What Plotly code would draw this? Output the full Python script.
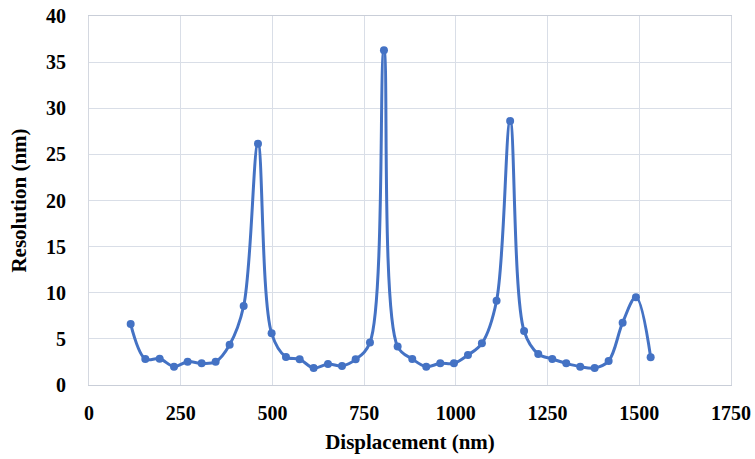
import plotly.graph_objects as go

displacement = [113.6, 153.5, 192.6, 231.7, 268.9, 307.0, 345.2, 383.4, 421.6, 460.6,
                497.8, 536.9, 574.2, 612.4, 651.4, 689.6, 726.9, 765.9, 804.0, 841.3,
                881.2, 919.3, 957.5, 994.8, 1033.0, 1071.0, 1111.0, 1148.0, 1186.0, 1224.6,
                1262.8, 1300.9, 1339.0, 1378.3, 1416.4, 1454.6, 1490.9, 1531.0]
resolution = [6.61, 2.82, 2.85, 1.99, 2.53, 2.35, 2.53, 4.37, 8.56, 26.16,
              5.60, 3.04, 2.78, 1.84, 2.28, 2.06, 2.78, 4.62, 36.28, 4.16,
              2.82, 1.99, 2.35, 2.35, 3.25, 4.52, 9.14, 28.62, 5.85, 3.36,
              2.82, 2.35, 1.99, 1.84, 2.60, 6.76, 9.50, 3.00]

x_ticks = [0, 250, 500, 750, 1000, 1250, 1500, 1750]
y_ticks = [0, 5, 10, 15, 20, 25, 30, 35, 40]

font_family = "Liberation Serif"
grid_color = "#d9dee7"

fig = go.Figure()
fig.add_trace(go.Scatter(
    x=displacement, y=resolution, mode="lines+markers",
    line=dict(color="#4472C4", width=3, shape="spline", smoothing=1.0),
    marker=dict(color="#4472C4", size=8),
    showlegend=False,
))

fig.update_layout(
    width=755, height=459,
    margin=dict(l=89, r=24, t=16, b=74),
    paper_bgcolor="white", plot_bgcolor="white",
    font=dict(family=font_family, color="black"),
)
fig.update_xaxes(
    range=[0, 1750], tickvals=x_ticks, ticktext=[str(v) for v in x_ticks],
    tickfont=dict(family=font_family, size=20, color="black", weight="bold"),
    title=dict(text="<b>Displacement (nm)</b>", font=dict(family=font_family, size=21, color="black"), standoff=11),
    showgrid=True, gridcolor=grid_color, gridwidth=1,
    showline=True, linecolor="#c9ced8", linewidth=1, mirror=True,
    zeroline=False, ticks="", ticklabelstandoff=10, automargin=False,
)
fig.update_yaxes(
    range=[0, 40], tickvals=y_ticks, ticktext=[str(v) for v in y_ticks],
    tickfont=dict(family=font_family, size=20, color="black", weight="bold"),
    title=dict(text="<b>Resolution (nm)</b>", font=dict(family=font_family, size=21, color="black"), standoff=13),
    showgrid=True, gridcolor=grid_color, gridwidth=1,
    showline=True, linecolor="#d4d8e0", linewidth=1, mirror=True,
    zeroline=False, ticks="", ticklabelstandoff=18, automargin=False,
)

fig.write_html("out.html")
